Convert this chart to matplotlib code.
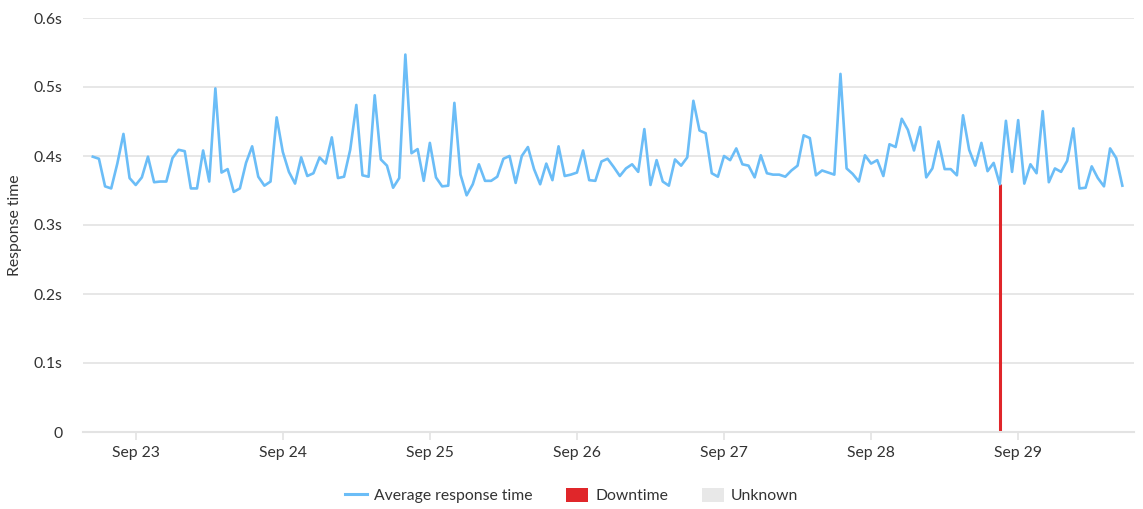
import numpy as np
import pandas as pd
import matplotlib
matplotlib.use("Agg")
import matplotlib.pyplot as plt
import matplotlib.dates as mdates
from matplotlib.lines import Line2D
from matplotlib.patches import Patch

plt.rcParams['font.family'] = ['Lato', 'DejaVu Sans']

# hourly average response time (seconds), Sep 22 17:00 -> Sep 29 17:00
response_time = [
    0.399, 0.396, 0.356, 0.353, 0.389, 0.432, 0.368, 0.358, 0.369, 0.399,
    0.362, 0.363, 0.363, 0.397, 0.409, 0.407, 0.353, 0.353, 0.408, 0.363,
    0.498, 0.376, 0.381, 0.348, 0.353, 0.390, 0.414, 0.370, 0.357, 0.363,
    0.456, 0.406, 0.377, 0.360, 0.398, 0.371, 0.375, 0.398, 0.389, 0.427,
    0.368, 0.370, 0.409, 0.474, 0.372, 0.370, 0.488, 0.395, 0.386, 0.354,
    0.368, 0.547, 0.404, 0.410, 0.364, 0.419, 0.369,
    0.356, 0.357, 0.477, 0.373, 0.343, 0.359, 0.388, 0.364, 0.364, 0.370,
    0.396, 0.400, 0.361, 0.400, 0.413, 0.381, 0.359, 0.389, 0.365, 0.414,
    0.371, 0.373, 0.376, 0.408, 0.365, 0.364, 0.392, 0.396, 0.384, 0.371,
    0.382, 0.388, 0.377, 0.439, 0.358, 0.394, 0.363, 0.357, 0.395, 0.386,
    0.398, 0.480, 0.437, 0.433, 0.375, 0.370, 0.400, 0.394, 0.411, 0.388,
    0.386, 0.369, 0.401, 0.375, 0.373, 0.373, 0.370,
    0.379, 0.386, 0.430, 0.426, 0.372, 0.379, 0.376, 0.373, 0.519, 0.382,
    0.374, 0.363, 0.401, 0.389, 0.394, 0.371, 0.417, 0.413, 0.454, 0.438,
    0.408, 0.442, 0.369, 0.382, 0.421, 0.381, 0.381, 0.372, 0.459, 0.409,
    0.386, 0.419, 0.378, 0.390, 0.359, 0.451, 0.377, 0.452, 0.360, 0.388,
    0.375, 0.465, 0.362, 0.382, 0.377, 0.393, 0.440, 0.353, 0.354, 0.385,
    0.368, 0.356, 0.411, 0.397, 0.357,
]
start_time = "2023-09-22 17:00"
downtime_at = ["2023-09-28 21:00"]
y_ticks = [0, 0.1, 0.2, 0.3, 0.4, 0.5, 0.6]
y_tick_labels = ["0", "0.1s", "0.2s", "0.3s", "0.4s", "0.5s", "0.6s"]

times = pd.date_range(start_time, periods=len(response_time), freq="h")
series = pd.Series(response_time, index=times)

line_color = "#6bbdf7"
down_color = "#e0262a"
unknown_color = "#e8e8e8"
grid_color = "#e3e3e3"
text_color = "#333333"
fs = 11.3

fig = plt.figure(figsize=(11.43, 5.09), dpi=100)
ax = fig.add_axes([83 / 1143, 77 / 509, 1051 / 1143, 414 / 509])

ax.plot(series.index, series.values, color=line_color, lw=1.9, zorder=3)

for t in downtime_at:
    ts = pd.Timestamp(t)
    ax.vlines(ts, 0, series[ts], color=down_color, lw=2.2, zorder=2)

ax.set_ylim(0, 0.6)
ax.set_xlim(times[0] - pd.Timedelta(hours=1.6), times[-1] + pd.Timedelta(hours=1.9))
ax.set_yticks(y_ticks)
ax.set_yticklabels(y_tick_labels)
ax.yaxis.grid(True, color=grid_color, lw=1.2)
ax.set_axisbelow(True)

ax.xaxis.set_major_locator(mdates.DayLocator())
ax.xaxis.set_major_formatter(mdates.DateFormatter("%b %d"))

for side in ["top", "right", "left"]:
    ax.spines[side].set_visible(False)
ax.spines["bottom"].set_color(grid_color)
ax.spines["bottom"].set_linewidth(1.5)

ax.tick_params(axis="y", length=0, pad=15, labelsize=fs, labelcolor=text_color)
ax.tick_params(axis="x", length=6, width=1.2, color=grid_color, pad=4,
               labelsize=fs, labelcolor=text_color)

ax.set_ylabel("Response time", fontsize=fs, color=text_color)
ax.yaxis.set_label_coords(-0.058, 0.5)

handles = [
    Line2D([0], [0], color=line_color, lw=2.2),
    Patch(facecolor=down_color, edgecolor="none"),
    Patch(facecolor=unknown_color, edgecolor="none"),
]
labels = ["Average response time", "Downtime", "Unknown"]
leg = fig.legend(handles, labels, loc="center", bbox_to_anchor=(0.5, 0.027),
                 ncol=3, frameon=False, fontsize=fs, handlelength=1.4,
                 handleheight=1.0, handletextpad=0.45, columnspacing=2.15)
for txt in leg.get_texts():
    txt.set_color(text_color)

fig.savefig("out.png", dpi=100)
